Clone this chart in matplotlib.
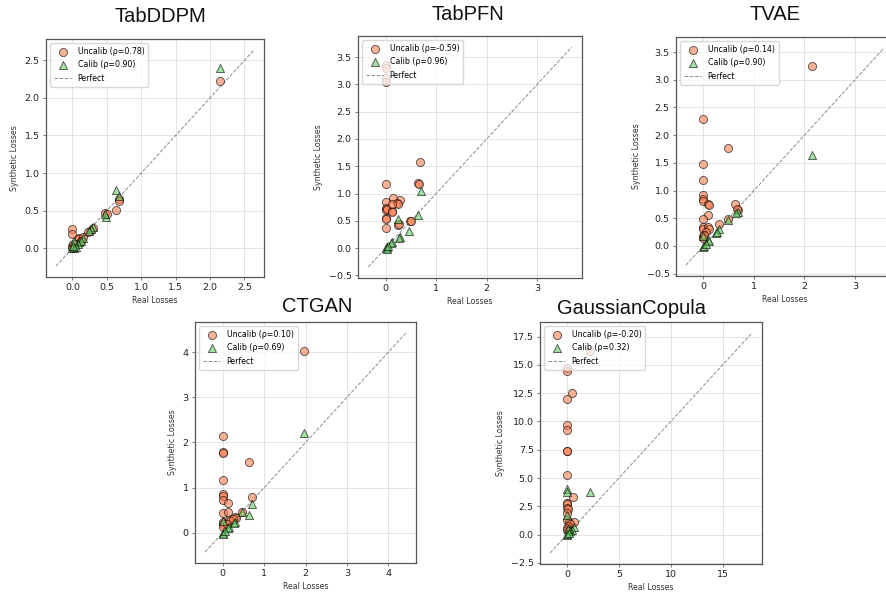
import numpy as np
import matplotlib
matplotlib.use("Agg")
import matplotlib.pyplot as plt
from matplotlib.ticker import MultipleLocator

# ---- data (real loss, synthetic loss) ----
tabddpm_unc_x = [2.15, 0.68, 0.67, 0.64, 0.48, 0.50, 0.0, 0.0, 0.30, 0.25, 0.22, 0.10, 0.08, 0.15, 0.12, 0.0, 0.02, 0.05, 0.0, 0.01]
tabddpm_unc_y = [2.23, 0.65, 0.63, 0.51, 0.47, 0.45, 0.25, 0.19, 0.27, 0.23, 0.22, 0.13, 0.12, 0.15, 0.10, 0.03, 0.02, 0.05, 0.0, 0.05]
tabddpm_cal_x = [2.15, 0.63, 0.68, 0.49, 0.48, 0.30, 0.27, 0.24, 0.15, 0.10, 0.12, 0.08, 0.02, 0.0, 0.03, 0.05, 0.01]
tabddpm_cal_y = [2.40, 0.77, 0.70, 0.41, 0.46, 0.28, 0.25, 0.23, 0.13, 0.08, 0.10, 0.05, 0.10, 0.0, 0.0, 0.02, 0.03]

tabpfn_unc_x = [0.0, 0.0, 0.0, 0.0, 0.68, 0.65, 0.66, 0.0, 0.0, 0.15, 0.28, 0.22, 0.25, 0.0, 0.0, 0.02, 0.12, 0.13, 0.12, 0.0, 0.0, 0.25, 0.26, 0.48, 0.50, 0.0]
tabpfn_unc_y = [3.35, 3.30, 3.12, 3.05, 1.58, 1.20, 1.18, 1.17, 0.85, 0.91, 0.88, 0.83, 0.80, 0.74, 0.70, 0.72, 0.68, 0.66, 0.80, 0.55, 0.53, 0.43, 0.45, 0.50, 0.49, 0.36]
tabpfn_cal_x = [0.70, 0.65, 0.25, 0.47, 0.28, 0.26, 0.12, 0.10, 0.03, 0.0, 0.02, 0.05]
tabpfn_cal_y = [1.05, 0.60, 0.53, 0.32, 0.20, 0.18, 0.12, 0.10, 0.02, 0.0, -0.01, 0.04]

tvae_unc_x = [2.15, 0.0, 0.49, 0.0, 0.0, 0.0, 0.0, 0.0, 0.10, 0.11, 0.63, 0.10, 0.0, 0.48, 0.30, 0.68, 0.66, 0.0, 0.0, 0.10, 0.12, 0.05, 0.0, 0.0, 0.02]
tvae_unc_y = [3.25, 2.29, 1.77, 1.48, 1.19, 0.92, 0.85, 0.82, 0.75, 0.74, 0.76, 0.55, 0.48, 0.49, 0.40, 0.65, 0.67, 0.34, 0.30, 0.34, 0.30, 0.25, 0.18, 0.15, 0.20]
tvae_cal_x = [2.15, 0.68, 0.65, 0.49, 0.30, 0.25, 0.27, 0.10, 0.12, 0.0, 0.0, 0.02, 0.05]
tvae_cal_y = [1.65, 0.62, 0.60, 0.47, 0.30, 0.23, 0.25, 0.10, 0.08, 0.18, -0.02, 0.0, 0.03]

ctgan_unc_x = [1.97, 0.0, 0.0, 0.0, 0.63, 0.0, 0.0, 0.0, 0.0, 0.12, 0.72, 0.0, 0.12, 0.46, 0.30, 0.32, 0.0, 0.0, 0.0, 0.15, 0.18, 0.10, 0.25]
ctgan_unc_y = [4.02, 2.14, 1.80, 1.76, 1.57, 1.17, 0.86, 0.82, 0.72, 0.66, 0.80, 0.43, 0.46, 0.47, 0.35, 0.33, 0.25, 0.20, 0.12, 0.28, 0.26, 0.20, 0.30]
ctgan_cal_x = [1.97, 0.72, 0.63, 0.46, 0.30, 0.28, 0.15, 0.12, 0.0, 0.0, 0.02, 0.05]
ctgan_cal_y = [2.20, 0.65, 0.40, 0.46, 0.25, 0.22, 0.12, 0.10, 0.27, 0.0, -0.02, 0.05]

gc_unc_x = [2.2, 0.0, 0.0, 0.45, 0.0, 0.0, 0.0, 0.0, 0.05, 0.0, 0.6, 0.0, 0.0, 0.05, 0.1, 0.0, 0.0, 0.2, 0.7, 0.3, 0.1, 0.0, 0.0, 0.2]
gc_unc_y = [16.2, 14.7, 14.5, 12.55, 12.0, 9.7, 9.25, 7.35, 7.35, 5.3, 3.3, 2.8, 2.7, 2.4, 2.3, 1.9, 1.3, 1.1, 1.1, 0.9, 0.8, 0.6, 0.4, 0.3]
gc_cal_x = [2.2, 0.0, 0.0, 0.0, 0.7, 0.5, 0.3, 0.1, 0.0, 0.05, 0.2]
gc_cal_y = [3.75, 4.0, 3.75, 1.7, 0.7, 0.4, 0.3, 0.5, 0.0, 0.1, 0.15]

rho_unc = {"TabDDPM": 0.78, "TabPFN": -0.59, "TVAE": 0.14, "CTGAN": 0.10, "GaussianCopula": -0.20}
rho_cal = {"TabDDPM": 0.90, "TabPFN": 0.96, "TVAE": 0.90, "CTGAN": 0.69, "GaussianCopula": 0.32}

W, H = 886, 599
fig = plt.figure(figsize=(W / 100, H / 100), dpi=100)


def px_axes(left, right, top, bottom):
    return fig.add_axes([left / W, 1 - bottom / H, (right - left) / W, (bottom - top) / H])


def panel(ax, name, ux, uy, cx, cy, xstep, ystep):
    ax.scatter(ux, uy, s=34, marker="o", color="#ff7f50", alpha=0.6,
               edgecolors="black", linewidths=0.7, zorder=3,
               label="Uncalib (\u03c1=%.2f)" % rho_unc[name])
    ax.scatter(cx, cy, s=34, marker="^", color="#66cc66", alpha=0.6,
               edgecolors="black", linewidths=0.7, zorder=3,
               label="Calib (\u03c1=%.2f)" % rho_cal[name])
    allv = np.concatenate([ux, uy, cx, cy])
    mn, mx = allv.min(), allv.max()
    pad = 0.1 * (mx - mn)
    ax.plot([mn - pad, mx + pad], [mn - pad, mx + pad], "k--", alpha=0.45,
            lw=0.7, label="Perfect", zorder=2)
    ax.xaxis.set_major_locator(MultipleLocator(xstep))
    ax.yaxis.set_major_locator(MultipleLocator(ystep))
    ax.grid(True, color="#dddddd", lw=0.7, alpha=0.8)
    ax.set_axisbelow(True)
    ax.tick_params(labelsize=6.8, length=2.5, width=0.6, pad=2,
                   color="#666666", labelcolor="#222222")
    for s in ax.spines.values():
        s.set_color("#555555")
        s.set_linewidth(0.9)
    ax.set_xlabel("Real Losses", fontsize=5.7, color="#333333", labelpad=3)
    ax.set_ylabel("Synthetic Losses", fontsize=5.7, color="#333333", labelpad=4)
    ax.legend(loc="upper left", fontsize=5.7, framealpha=0.75, borderpad=0.5,
              handlelength=2.2, labelspacing=0.55, edgecolor="#cccccc")


ax1 = px_axes(46, 264, 39, 277)
panel(ax1, "TabDDPM", tabddpm_unc_x, tabddpm_unc_y, tabddpm_cal_x, tabddpm_cal_y, 0.5, 0.5)
ax2 = px_axes(358, 582, 36, 278)
panel(ax2, "TabPFN", tabpfn_unc_x, tabpfn_unc_y, tabpfn_cal_x, tabpfn_cal_y, 1, 0.5)
ax3 = px_axes(676, 894, 37, 276)
panel(ax3, "TVAE", tvae_unc_x, tvae_unc_y, tvae_cal_x, tvae_cal_y, 1, 0.5)
ax4 = px_axes(195, 416, 322, 563)
panel(ax4, "CTGAN", ctgan_unc_x, ctgan_unc_y, ctgan_cal_x, ctgan_cal_y, 1, 1)
ax5 = px_axes(540, 762, 322, 564)
panel(ax5, "GaussianCopula", gc_unc_x, gc_unc_y, gc_cal_x, gc_cal_y, 5, 2.5)

titles = [("TabDDPM", 160, 16), ("TabPFN", 468, 15), ("TVAE", 775, 15),
          ("CTGAN", 317, 307), ("GaussianCopula", 632, 308)]
for t, x, y in titles:
    fig.text(x / W, 1 - y / H, t, fontsize=14.5, family="Liberation Sans",
             ha="center", va="center", color="#111111")

fig.savefig("out.png", dpi=100)
